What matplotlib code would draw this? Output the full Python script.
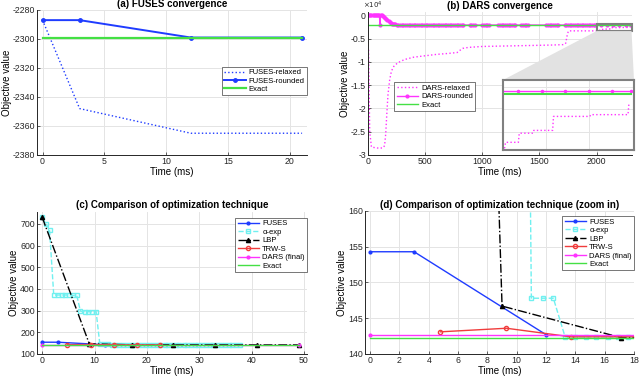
import matplotlib
matplotlib.use('Agg')
import matplotlib.pyplot as plt
from matplotlib.patches import Rectangle, Polygon
from matplotlib.ticker import FuncFormatter

plt.rcParams['font.family'] = ['Liberation Sans', 'DejaVu Sans']
plt.rcParams['axes.unicode_minus'] = False

# (a) FUSES convergence
fuses_t = [0, 3, 12, 21]
fuses_relaxed = [-2287, -2348, -2365, -2365]
fuses_rounded = [-2287, -2287, -2299, -2299]
fuses_exact_t = [0, 21]
fuses_exact = [-2299, -2299]

# (b) DARS convergence
relaxed_t = [5, 15, 30, 80, 130, 145, 155, 165, 175, 190, 205, 225, 260, 320, 400, 500,
             600, 700, 780, 800, 830, 880, 1000, 1200, 1400, 1600, 1715, 1730, 1745, 1755,
             2004, 2006, 2036, 2038, 2070, 2072, 2116, 2118, 2203, 2205, 2292, 2294, 2295]
relaxed_v = [-7400, -25000, -28300, -28500, -28500, -28000, -25500, -21000, -17000, -13800,
             -12000, -11000, -10200, -9500, -9000, -8700, -8400, -8200, -8000, -7600, -7100,
             -6900, -6700, -6600, -6500, -6400, -6300, -6000, -4000, -3350,
             -3350, -3230, -3230, -3028, -3028, -2966, -2966, -2656, -2656, -2617, -2617,
             -2392, -2392]
rounded_t = [0, 10, 20, 30, 40, 50, 60, 70, 80, 90, 100, 105, 110, 120, 130, 140, 150, 160,
             170, 180, 190, 200, 210, 220, 230, 240, 250, 265, 280, 295, 310, 325, 340, 355,
             370, 385, 400, 415, 430, 445, 460, 475, 490, 505, 520, 535, 550, 565, 580, 595,
             610, 625, 640, 655, 670, 685, 700, 715, 730, 745, 760, 775, 790, 805, 820, 835,
             890, 905, 920, 935, 1000, 1015, 1030, 1045, 1060, 1140, 1155, 1170, 1185, 1200,
             1215, 1230, 1245, 1260, 1275, 1290, 1340, 1355, 1370, 1385, 1400, 1560, 1575,
             1590, 1605, 1620, 1635, 1650, 1665, 1720, 1735, 1750, 1765, 1780, 1795, 1810,
             1825, 1840, 1855, 1870, 1885, 1900, 1915, 1930, 1945, 1960, 1975, 1990, 2035,
             2090, 2145, 2200, 2255, 2300]
rounded_v = [0, 0, 0, 0, 0, 0, 0, 0, 0, 0, 0, -2170, 0, -50, -150, -350, -600, -850,
             -1100, -1300, -1500, -1650, -1770, -1860, -1920, -1950, -2000, -2050, -2080,
             -2100, -2100, -2100, -2100, -2100, -2100, -2100, -2100, -2100, -2100, -2100,
             -2100, -2100, -2100, -2100, -2100, -2100, -2100, -2100, -2100, -2100, -2100,
             -2100, -2100, -2100, -2100, -2100, -2100, -2100, -2100, -2100, -2100, -2100,
             -2100, -2100, -2100, -2100, -2100, -2100, -2100, -2100, -2100, -2100, -2100,
             -2100, -2100, -2100, -2100, -2100, -2100, -2100, -2100, -2100, -2100, -2100,
             -2100, -2100, -2100, -2100, -2100, -2100, -2100, -2100, -2100, -2100, -2100,
             -2100, -2100, -2100, -2100, -2100, -2100, -2100, -2100, -2100, -2100, -2100,
             -2100, -2100, -2100, -2100, -2100, -2100, -2100, -2100, -2100, -2100, -2100,
             -2100, -2100, -2100, -2100, -2100, -2100, -2100]
dars_exact_t = [0, 2300]
dars_exact = [-2170, -2170]
zoom_x = (2000, 2306)
zoom_y = (-3400, -1850)

# (c)/(d) comparison of techniques
fuses_c_t = [0, 3, 12]
fuses_c_v = [154.3, 154.3, 142.7]
aexp_t = [0, 0.7, 1.4, 2.2, 3.0, 3.7, 4.4, 5.2, 5.9, 6.6, 7.3, 8.1, 8.8, 9.5, 10.3, 11.0,
          11.8, 12.5, 13.3, 14.0, 14.7, 15.4, 16.2, 16.9, 17.6, 18.3, 19.0, 19.8, 20.5,
          21.2, 21.9, 22.6, 23.4, 24.1, 24.8, 25.5, 26.2, 27.0, 27.7, 28.4, 29.1, 29.8,
          30.6, 31.3, 32.0, 32.7, 33.4, 34.2, 34.9, 35.6, 36.3, 37.0, 37.8]
aexp_v = [730, 700, 672, 372, 372, 372, 372, 372, 370, 370, 298, 295, 295, 295, 295, 147.8,
          147.8, 147.8, 142.4, 142.4, 142.4, 142.4, 142.4, 142.4, 142.4, 142.4, 142.4,
          142.4, 142.4, 142.4, 142.4, 142.4, 142.4, 142.4, 142.4, 142.4, 142.4, 142.4,
          142.4, 142.4, 142.4, 142.4, 142.4, 142.4, 142.4, 142.4, 142.4, 142.4, 142.4,
          142.4, 142.4, 142.4, 142.4]
lbp_t = [0, 9.0, 17.1, 25.0, 33.0, 41.0, 49.0]
lbp_v = [730, 146.7, 142.3, 142.3, 142.3, 142.3, 142.3]
trws_t = [4.8, 9.3, 13.7, 18.2, 22.6]
trws_v = [143.1, 143.6, 142.4, 142.4, 142.4]
dars_t = [0, 49]
dars_v = [142.7, 142.7]
exact_t = [0, 49]
exact_v = [142.3, 142.3]

BLUE = '#1f3cff'
CYAN = '#70f0f0'
RED = '#f03c3c'
MAG = '#ff33ff'
GREEN = '#44e044'
FS = 6.3


def style(ax):
    ax.grid(True, color='#e4e4e4', lw=0.7)
    ax.set_axisbelow(True)
    for s in ['top', 'right']:
        ax.spines[s].set_visible(False)
    for s in ['left', 'bottom']:
        ax.spines[s].set_color('#262626')
        ax.spines[s].set_linewidth(0.7)
    ax.tick_params(direction='in', length=2, width=0.5, labelsize=FS, pad=1.5,
                   colors='#262626')
    ax.set_xlabel('Time (ms)', fontsize=7, labelpad=1)
    ax.set_ylabel('Objective value', fontsize=7, labelpad=0.5)


def legend(ax, **kw):
    lg = ax.legend(fontsize=5.5, handlelength=2.8, borderpad=0.3, labelspacing=0.15,
                   handletextpad=0.4, fancybox=False, framealpha=1, borderaxespad=0, **kw)
    lg.get_frame().set_edgecolor('#404040')
    lg.get_frame().set_linewidth(0.5)
    return lg


fig = plt.figure(figsize=(6.4, 3.81), dpi=100)

# (a)
ax = fig.add_axes([0.0578, 0.5932, 0.4219, 0.3806])
ax.plot(fuses_t, fuses_relaxed, ':', color=BLUE, lw=1, label='FUSES-relaxed')
ax.plot(fuses_t, fuses_rounded, '.-', color=BLUE, lw=1.4, ms=5, label='FUSES-rounded')
ax.plot(fuses_exact_t, fuses_exact, '-', color=GREEN, lw=1.6, label='Exact')
ax.set_xlim(-0.45, 21.4)
ax.set_ylim(-2380, -2280)
ax.set_xticks([0, 5, 10, 15, 20])
ax.set_yticks([-2380, -2360, -2340, -2320, -2300, -2280])
style(ax)
ax.set_title('(a) FUSES convergence', fontsize=7, fontweight='bold', pad=2)
legend(ax, loc='upper right', bbox_to_anchor=(1.0, 0.61))

# (b)
axb = fig.add_axes([0.575, 0.5932, 0.4125, 0.3753])
axb.plot(relaxed_t, relaxed_v, ':', color=MAG, lw=1, label='DARS-relaxed')
axb.plot(rounded_t, rounded_v, '.-', color=MAG, lw=1, ms=4, label='DARS-rounded')
axb.plot(dars_exact_t, dars_exact, '-', color=GREEN, lw=1, label='Exact')
axb.set_xlim(0, 2310)
axb.set_ylim(-30000, 700)
axb.set_xticks([0, 500, 1000, 1500, 2000])
axb.set_yticks([-30000, -25000, -20000, -15000, -10000, -5000, 0])
axb.yaxis.set_major_formatter(FuncFormatter(lambda v, p: '%g' % (v / 1e4)))
style(axb)
axb.set_title('(b) DARS convergence', fontsize=7, fontweight='bold', pad=2)
axb.text(-0.02, 1.01, r'$\times10^4$', transform=axb.transAxes, fontsize=5,
         ha='left', va='bottom', color='#262626')
legend(axb, loc='upper left', bbox_to_anchor=(0.1, 0.51))
axb.add_patch(Rectangle((zoom_x[0], zoom_y[0]), zoom_x[1] - zoom_x[0], zoom_y[1] - zoom_y[0],
                        fill=False, edgecolor='#808080', lw=1.5, clip_on=False, zorder=5))

# inset of (b)
axi = fig.add_axes([0.7859, 0.6063, 0.2047, 0.1837], zorder=2)
axi.plot(relaxed_t, relaxed_v, ':', color=MAG, lw=1)
axi.plot(rounded_t, rounded_v, '.-', color=MAG, lw=1, ms=3)
axi.plot(dars_exact_t, dars_exact, '-', color=GREEN, lw=1.5)
axi.set_xlim(*zoom_x)
axi.set_ylim(*zoom_y)
axi.set_xticks([2100, 2200])
axi.set_yticks([-3000, -2500, -2000])
axi.grid(True, color='#e4e4e4', lw=0.7)
axi.set_axisbelow(True)
axi.tick_params(length=0, labelbottom=False, labelleft=False)
for s in axi.spines.values():
    s.set_color('#808080')
    s.set_linewidth(1.5)

# connector between zoom box and inset
fig.canvas.draw()
inv = fig.transFigure.inverted()
bl = inv.transform(axb.transData.transform((zoom_x[0], zoom_y[0])))
br = inv.transform(axb.transData.transform((zoom_x[1], zoom_y[0])))
pos = axi.get_position()
poly = Polygon([bl, br, (pos.x1, pos.y1), (pos.x0, pos.y1)], closed=True,
               transform=fig.transFigure, facecolor='#e2e2e2', edgecolor='none', zorder=1)
fig.patches.append(poly)

# (c) and (d)
for k, rect in enumerate([[0.0578, 0.0709, 0.4219, 0.3727], [0.5703, 0.0709, 0.4203, 0.3753]]):
    ax = fig.add_axes(rect)
    ax.plot(fuses_c_t, fuses_c_v, '.-', color=BLUE, lw=1, ms=4, label='FUSES')
    ax.plot(aexp_t, aexp_v, '--', color=CYAN, lw=1, marker='s', ms=2.5, mfc='none',
            label='α-exp')
    ax.plot(lbp_t, lbp_v, '-.', color='black', lw=1, marker='^', ms=3, label='LBP')
    ax.plot(trws_t, trws_v, '-', color=RED, lw=1, marker='o', ms=3, mfc='none', label='TRW-S')
    ax.plot(dars_t, dars_v, '-', color=MAG, lw=1, marker='.', ms=4, label='DARS (final)')
    ax.plot(exact_t, exact_v, '-', color=GREEN, lw=1, label='Exact')
    style(ax)
    if k == 0:
        ax.set_xlim(-1, 50.6)
        ax.set_ylim(100, 755)
        ax.set_xticks([0, 10, 20, 30, 40, 50])
        ax.set_yticks([100, 200, 300, 400, 500, 600, 700])
        ax.set_title('(c) Comparison of optimization technique', fontsize=7,
                     fontweight='bold', pad=3)
        legend(ax, loc='upper right', bbox_to_anchor=(1.0, 0.96))
    else:
        ax.set_xlim(-0.35, 18)
        ax.set_ylim(140, 160)
        ax.set_xticks([0, 2, 4, 6, 8, 10, 12, 14, 16, 18])
        ax.set_yticks([140, 145, 150, 155, 160])
        ax.set_title('(d) Comparison of optimization technique (zoom in)', fontsize=7,
                     fontweight='bold', pad=2)
        legend(ax, loc='upper right', bbox_to_anchor=(1.0, 0.965))

fig.savefig('out.png', dpi=100)
